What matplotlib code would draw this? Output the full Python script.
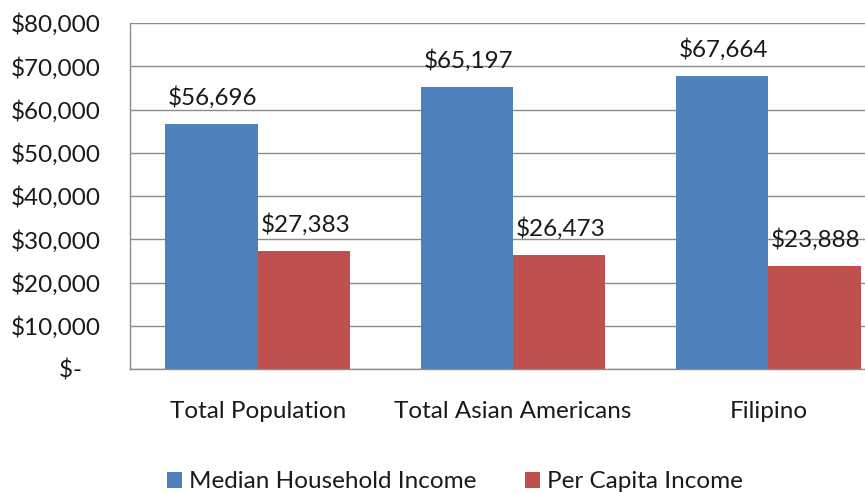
import numpy as np
import matplotlib
matplotlib.use("Agg")
import matplotlib.pyplot as plt

groups = ["Total Population", "Total Asian Americans", "Filipino"]
median_household = [56696, 65197, 67664]
per_capita = [27383, 26473, 23888]
series_names = ["Median Household Income", "Per Capita Income"]
ytick_values = [0, 10000, 20000, 30000, 40000, 50000, 60000, 70000, 80000]


def money(v):
    # accounting style, zero shows as a dash
    if v == 0:
        return "$-   "
    return "${:,.0f}".format(v)


plt.rcParams["font.family"] = ["Lato", "DejaVu Sans"]
fs = 17.5
txt = "#1a1a1a"

fig = plt.figure(figsize=(8.65, 4.93), dpi=100)
# axes run past the right edge, as in the original crop
ax = fig.add_axes([130 / 865, 124 / 493, 766 / 865, 346 / 493])

x = np.arange(len(groups))
w = 0.362
blue = "#4F81BD"
red = "#C0504D"
b1 = ax.bar(x - w / 2, median_household, w, color=blue, label=series_names[0], zorder=2)
b2 = ax.bar(x + w / 2, per_capita, w, color=red, label=series_names[1], zorder=2)

for bars, vals in ((b1, median_household), (b2, per_capita)):
    for rect, v in zip(bars, vals):
        ax.annotate(money(v), (rect.get_x() + rect.get_width() / 2, v),
                    xytext=(1, 19), textcoords="offset points",
                    ha="center", va="center", fontsize=fs, color=txt)

ax.set_xlim(-0.5, 2.5)
ax.set_ylim(0, 80000)
ax.set_yticks(ytick_values)
ax.set_yticklabels([money(v) for v in ytick_values])
ax.set_xticks(x)
ax.set_xticklabels(groups)
ax.tick_params(axis="y", length=0, pad=21, labelsize=fs, colors=txt)
ax.tick_params(axis="x", length=0, pad=23, labelsize=fs, colors=txt)

ax.yaxis.grid(True, color="#8c8c8c", linewidth=1.0, zorder=0)
ax.set_axisbelow(True)
for s in ("top", "right"):
    ax.spines[s].set_visible(False)
for s in ("left", "bottom"):
    ax.spines[s].set_color("#8c8c8c")
    ax.spines[s].set_linewidth(1.0)

fig.legend(loc="center", bbox_to_anchor=(455 / 865, 1 - 482 / 493), ncol=2,
           frameon=False, fontsize=fs, handlelength=0.6, handleheight=0.6,
           handletextpad=0.3, columnspacing=2.0, labelcolor=txt)

fig.savefig("out.png", dpi=100)
